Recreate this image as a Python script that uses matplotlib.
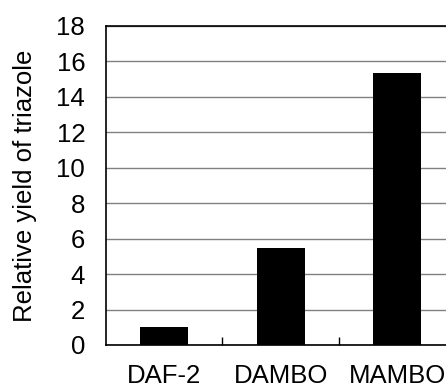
import matplotlib.pyplot as plt

# Data
categories = ['DAF-2', 'DAMBO', 'MAMBO']
yield_values = [1.0, 5.5, 15.35]
y_ticks = [0, 2, 4, 6, 8, 10, 12, 14, 16, 18]

plt.rcParams['font.family'] = ['Liberation Sans', 'DejaVu Sans']

fig = plt.figure(figsize=(4.46, 3.92), dpi=100)
ax = fig.add_axes([0.2377, 0.1199, 1.021 - 0.2377, 0.9337 - 0.1199])

x = list(range(len(categories)))
ax.bar(x, yield_values, width=0.41, color='black', zorder=3)

ax.set_xlim(-0.5, 2.5)
ax.set_ylim(0, 18)
ax.set_yticks(y_ticks)
ax.set_xticks(x)
ax.set_xticklabels(categories, fontsize=18.5)
ax.set_xticks([0.5, 1.5], minor=True)

# Gridlines
ax.yaxis.grid(True, color='#808080', linewidth=1.0, zorder=0)
ax.set_axisbelow(True)

ax.tick_params(axis='y', direction='in', length=0, pad=15, labelsize=18.5)
ax.tick_params(axis='x', which='major', length=0, pad=14)
ax.tick_params(axis='x', which='minor', direction='in', length=6, width=1)

for side in ['left', 'bottom', 'top', 'right']:
    ax.spines[side].set_color('black')
    ax.spines[side].set_linewidth(1.2)

ax.set_ylabel('Relative yield of triazole', fontsize=18.5, labelpad=14)

fig.savefig('out.png', dpi=100)
